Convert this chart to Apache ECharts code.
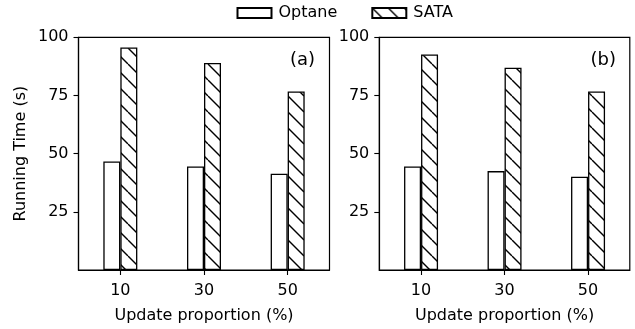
<!DOCTYPE html>
<html>
<head>
<meta charset="utf-8">
<script src="https://cdn.jsdelivr.net/npm/echarts@6/dist/echarts.min.js"></script>
<style>
  html, body { margin: 0; padding: 0; background: #fff; }
  #chart { width: 635px; height: 329px; }
</style>
</head>
<body>
<div id="chart"></div>
<script>
// Update proportion categories shared by both panels
const categories = ['10', '30', '50'];
const yTicks = [25, 50, 75, 100];

// Running time (s), panel (a)
const optaneA = [46.6, 44.5, 41.4];
const sataA = [95.6, 89.0, 76.7];

// Running time (s), panel (b)
const optaneB = [44.5, 42.5, 40.1];
const sataB = [92.6, 86.9, 76.7];

const FONT = 'DejaVu Sans';
const FS = 16;

// Back-diagonal ("\\") hatch tile for the SATA bars
function hatchTile(size) {
  const c = document.createElement('canvas');
  c.width = size; c.height = size;
  const ctx = c.getContext('2d');
  ctx.fillStyle = '#fff';
  ctx.fillRect(0, 0, size, size);
  ctx.strokeStyle = '#000';
  ctx.lineWidth = 1.4;
  for (const k of [-size, 0, size]) {
    ctx.beginPath();
    ctx.moveTo(k, 0);
    ctx.lineTo(k + size, size);
    ctx.stroke();
  }
  return c;
}
const hatch = { image: hatchTile(16), repeat: 'repeat' };

const grids = [
  { left: 78.5, top: 37.3, width: 251, height: 238 },
  { left: 379.3, top: 37.3, width: 250.5, height: 238 }
];

function xAxisFor(i) {
  return {
    type: 'category',
    gridIndex: i,
    data: categories,
    boundaryGap: true,
    axisLine: { show: true, lineStyle: { color: '#000', width: 1.2 } },
    axisTick: { show: true, alignWithLabel: true, length: 5, lineStyle: { color: '#000', width: 1.1 } },
    axisLabel: { color: '#000', fontFamily: FONT, fontSize: FS, margin: 13 },
    name: 'Update proportion (%)',
    nameLocation: 'middle',
    nameGap: 38,
    nameTextStyle: { color: '#000', fontFamily: FONT, fontSize: FS }
  };
}

function yAxisFor(i, withName) {
  return {
    type: 'value',
    gridIndex: i,
    min: 0,
    max: 100,
    interval: 25,
    splitLine: { show: false },
    axisLine: { show: true, lineStyle: { color: '#000', width: 1.2 } },
    axisTick: { show: true, length: 5, customValues: yTicks, lineStyle: { color: '#000', width: 1.1 } },
    axisLabel: { color: '#000', fontFamily: FONT, fontSize: FS, margin: 10, customValues: yTicks },
    name: withName ? 'Running Time (s)' : '',
    nameLocation: 'middle',
    nameGap: 50,
    nameTextStyle: { color: '#000', fontFamily: FONT, fontSize: FS }
  };
}

const barBase = {
  type: 'bar',
  barWidth: 17,
  barGap: '0%',
  silent: true,
  animation: false
};

function optaneSeries(i, values) {
  return Object.assign({}, barBase, {
    name: 'Optane', xAxisIndex: i, yAxisIndex: i, data: values,
    itemStyle: { color: '#fff', borderColor: '#000', borderWidth: 1.3 }
  });
}
function sataSeries(i, values) {
  return Object.assign({}, barBase, {
    name: 'SATA', xAxisIndex: i, yAxisIndex: i, data: values,
    itemStyle: { color: hatch, borderColor: '#000', borderWidth: 1.3 }
  });
}

const panelLabelStyle = { fontFamily: FONT, fontSize: 18, fontWeight: 'normal', color: '#000' };

const chart = echarts.init(document.getElementById('chart'), null, { renderer: 'canvas' });
chart.setOption({
  animation: false,
  backgroundColor: '#fff',
  textStyle: { fontFamily: FONT },
  grid: grids.map(g => Object.assign({ show: true, borderColor: '#000', borderWidth: 1.2, backgroundColor: 'transparent' }, g)),
  title: [
    { text: '(a)', right: 320, top: 51, padding: 0, textStyle: panelLabelStyle },
    { text: '(b)', right: 19, top: 51, padding: 0, textStyle: panelLabelStyle }
  ],
  legend: {
    data: ['Optane', 'SATA'],
    top: 5,
    left: 236.5,
    padding: 0,
    icon: 'rect',
    itemWidth: 34,
    itemHeight: 10,
    itemGap: 34,
    selectedMode: false,
    textStyle: { fontFamily: FONT, fontSize: FS, color: '#000', padding: [0, 0, 0, 2] }
  },
  xAxis: [xAxisFor(0), xAxisFor(1)],
  yAxis: [yAxisFor(0, true), yAxisFor(1, false)],
  series: [
    optaneSeries(0, optaneA),
    sataSeries(0, sataA),
    optaneSeries(1, optaneB),
    sataSeries(1, sataB)
  ]
});
</script>
</body>
</html>
